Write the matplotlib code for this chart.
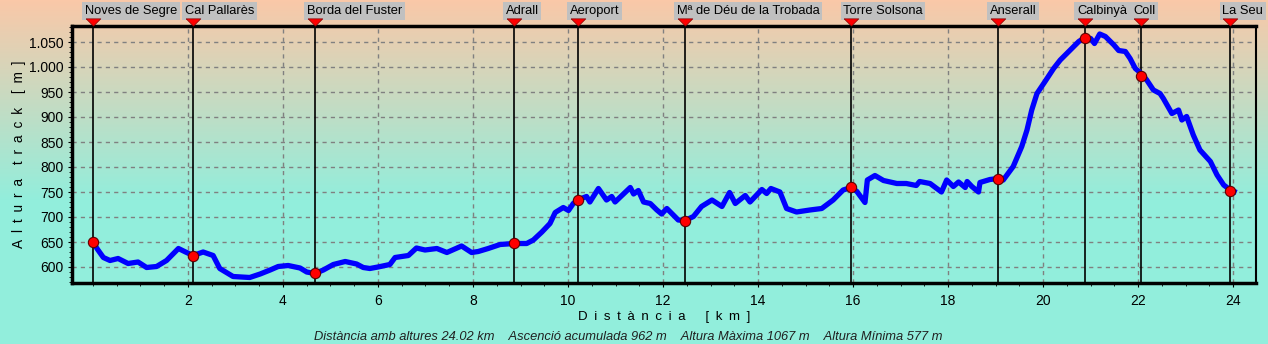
import numpy as np
import matplotlib
matplotlib.use("Agg")
import matplotlib.pyplot as plt
import matplotlib.transforms as mtransforms
from matplotlib.path import Path
from matplotlib.ticker import MultipleLocator, FuncFormatter

# profile (km, m)
dist_km = [0.0, 0.1, 0.22, 0.36, 0.53, 0.74, 0.95, 1.13, 1.34, 1.55, 1.80, 1.95,
           2.11, 2.32, 2.53, 2.67, 2.95, 3.3, 3.52, 3.73, 3.9, 4.11, 4.36, 4.5,
           4.67, 4.85, 5.06, 5.31, 5.55, 5.69, 5.83, 6.0, 6.25, 6.36, 6.64, 6.81,
           6.99, 7.24, 7.45, 7.76, 7.97, 8.11, 8.32, 8.57, 8.86, 9.13, 9.27, 9.45,
           9.62, 9.73, 9.9, 10.01, 10.11, 10.22, 10.39, 10.46, 10.64, 10.81, 10.92,
           10.99, 11.31, 11.38, 11.48, 11.59, 11.73, 11.87, 11.97, 12.08, 12.32,
           12.46, 12.64, 12.81, 13.03, 13.24, 13.4, 13.52, 13.73, 13.83, 14.08,
           14.18, 14.27, 14.46, 14.6, 14.81, 15.09, 15.34, 15.58, 15.79, 15.96,
           16.08, 16.25, 16.3, 16.46, 16.64, 16.92, 17.12, 17.33, 17.4, 17.62,
           17.86, 17.97, 18.11, 18.22, 18.36, 18.4, 18.5, 18.64, 18.67, 18.88,
           19.06, 19.16, 19.37, 19.55, 19.66, 19.76, 19.87, 20.04, 20.22, 20.36,
           20.57, 20.75, 20.88, 21.0, 21.08, 21.19, 21.31, 21.49, 21.59, 21.73,
           21.83, 21.94, 22.08, 22.18, 22.32, 22.46, 22.53, 22.71, 22.85, 22.92,
           23.02, 23.16, 23.3, 23.52, 23.66, 23.8, 23.94, 24.02]
alt_m = [650, 635, 619, 613, 617, 607, 610, 599, 601, 613, 637, 630,
         623, 630, 623, 597, 581, 579, 586, 594, 601, 603, 598, 590,
         587, 594, 605, 611, 606, 599, 597, 600, 605, 619, 623, 638,
         634, 637, 629, 642, 629, 631, 637, 645, 647, 647, 654, 670,
         687, 709, 719, 713, 727, 735, 741, 730, 757, 734, 741,
         730, 759, 746, 753, 730, 727, 714, 706, 717, 694,
         693, 701, 721, 734, 721, 749, 727, 743, 730, 755,
         747, 757, 750, 717, 710, 714, 717, 734, 754, 759,
         751, 729, 774, 783, 773, 767, 767, 763, 771, 767,
         750, 774, 761, 770, 759, 771, 761, 750, 769, 775,
         777, 774, 801, 841, 874, 914, 947, 971, 997, 1014,
         1034, 1051, 1059, 1057, 1047, 1066, 1061, 1044, 1033, 1031,
         1017, 997, 986, 974, 954, 947, 937, 907, 914, 894,
         901, 864, 834, 811, 784, 764, 754, 751]

wp_names = ["Noves de Segre", "Cal Pallarès", "Borda del Fuster", "Adrall", "Aeroport",
            "Mª de Déu de la Trobada", "Torre Solsona", "Anserall", "Calbinyà", "Coll", "La Seu"]
wp_km = [0.0, 2.1, 4.67, 8.86, 10.2, 12.46, 15.96, 19.05, 20.88, 22.06, 23.94]
wp_alt = [650, 623, 588, 648, 735, 693, 760, 777, 1058, 983, 753]

x_ticks = [2, 4, 6, 8, 10, 12, 14, 16, 18, 20, 22, 24]
y_ticks = [600, 650, 700, 750, 800, 850, 900, 950, 1000, 1050]

summary = ("Distància amb altures 24.02 km    Ascenció acumulada 962 m    "
           "Altura Màxima 1067 m    Altura Mínima 577 m")


def spaced(s):
    # letter-spaced axis title
    return "\u2002".join(s)


plt.rcParams['font.family'] = ['Liberation Sans', 'DejaVu Sans']

fig = plt.figure(figsize=(12.68, 3.44), dpi=100)

# background gradient over whole figure
bg = fig.add_axes([0, 0, 1, 1], zorder=-10)
bg.axis('off')
top = np.array([250, 200, 168]) / 255.0
bot = np.array([146, 238, 220]) / 255.0
rows = 344
t = np.clip(np.arange(rows) / 200.0, 0, 1)[:, None]
grad = top * (1 - t) + bot * t
bg.imshow(grad[:, None, :], aspect='auto', extent=[0, 1, 0, 1])

ax = fig.add_axes([72 / 1268, 61 / 344, 1184 / 1268, 257 / 344])
ax.set_facecolor('none')
ax.set_xlim(-0.44, 24.48)
ax.set_ylim(568, 1082)

ax.grid(True, which='major', color='#808080', linestyle=(0, (3, 3)), linewidth=1)
ax.set_xticks(x_ticks)
ax.set_yticks(y_ticks)
ax.xaxis.set_minor_locator(MultipleLocator(0.5))
ax.yaxis.set_minor_locator(MultipleLocator(10))
ax.yaxis.set_major_formatter(FuncFormatter(lambda v, p: f"{int(v):,}".replace(",", ".")))
ax.tick_params(which='major', direction='out', length=3, labelsize=10, pad=3)
ax.tick_params(axis='x', which='major', pad=5)
ax.tick_params(which='minor', direction='out', length=2)

for s in ['left', 'bottom', 'top']:
    ax.spines[s].set_linewidth(2.5)
ax.spines['right'].set_linewidth(1.5)

# waypoint lines
for k in wp_km:
    ax.axvline(k, color='black', linewidth=1.2, zorder=2)

ax.plot(dist_km, alt_m, color='#0000FF', linewidth=3.8, zorder=3, solid_joinstyle='round')
ax.scatter(wp_km, wp_alt, s=55, color='#FF0000', edgecolors='#600000', linewidths=0.8, zorder=4)

# red triangles and labels above
trans = mtransforms.blended_transform_factory(ax.transData, ax.transAxes)
tri = Path([(-1, 0.5), (1, 0.5), (0, -0.5), (-1, 0.5)])
tri_trans = mtransforms.offset_copy(trans, fig=fig, x=0, y=4, units='dots')
ax.scatter(wp_km, [1] * len(wp_km), marker=tri, s=110, color='#FF0000',
           edgecolors='#800000', linewidths=0.5, transform=tri_trans, clip_on=False, zorder=5)
for name, k in zip(wp_names, wp_km):
    ax.annotate(name, xy=(k, 1), xycoords=trans, xytext=(-8, 12), textcoords='offset pixels',
                ha='left', va='baseline', fontsize=9.3, color='black', annotation_clip=False,
                bbox=dict(boxstyle='square,pad=0.2', facecolor='#C0C0C0', edgecolor='none'))

ax.set_xlabel(spaced("Distància") + "\u2002\u2002\u2002" + spaced("[km]"), fontsize=9.5, labelpad=2)
ax.set_ylabel(spaced("Altura") + "\u2002\u2002" + spaced("track") + "\u2002\u2002" + spaced("[m]"),
              fontsize=9.8, labelpad=2)

fig.text(628 / 1268, 1 - 337 / 344, summary, ha='center', va='center',
         fontsize=9.3, style='italic', color='#202020')

fig.savefig("out.png", dpi=100)
